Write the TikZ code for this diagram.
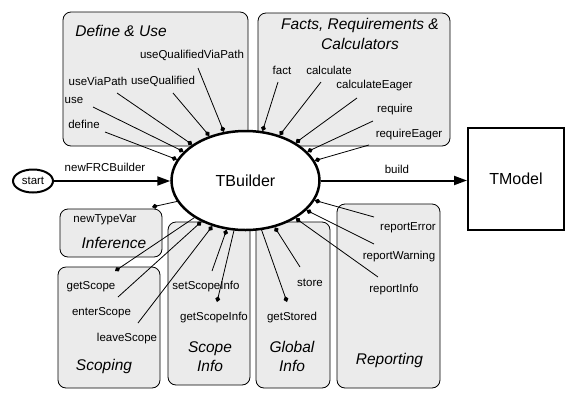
\documentclass[tikz,border=0pt]{standalone}
\usepackage{fontspec}
\setmainfont{Liberation Sans}
\usetikzlibrary{shapes.geometric,arrows.meta}
\definecolor{boxgray}{RGB}{235,235,235}
\tikzset{
  lbl/.style={font=\fontsize{11.5}{13}\selectfont, inner sep=0pt},
  ttl/.style={font=\fontsize{15.5}{19.5}\selectfont\itshape, inner sep=0pt, align=center},
  grpbox/.style={draw, line width=0.8pt, fill=boxgray, rounded corners=8pt, inner sep=0pt},
  conn/.style={line width=0.8pt, -{Diamond[length=6pt,width=5pt]}},
  mainarrow/.style={line width=2pt, -{Triangle[length=13pt,width=9pt]}},
}
\begin{document}
\begin{tikzpicture}[x=1pt,y=-1pt]
\useasboundingbox (0,0) rectangle (576,400);
% group boxes
\node[grpbox, minimum width=185pt, minimum height=134pt] (duBox) at (155.5,79) {};
\node[grpbox, minimum width=192pt, minimum height=133pt] (frBox) at (354,79.5) {};
\node[grpbox, minimum width=102pt, minimum height=48pt] (infBox) at (111,233) {};
\node[grpbox, minimum width=102pt, minimum height=121pt] (scBox) at (109,327.5) {};
\node[grpbox, minimum width=82pt, minimum height=163pt] (siBox) at (209,303.5) {};
\node[grpbox, minimum width=74pt, minimum height=166pt] (giBox) at (293,305) {};
\node[grpbox, minimum width=103pt, minimum height=184pt] (repBox) at (388.5,296) {};
% titles
\node[ttl] (tDU) at (121,31) {Define \& Use};
\node[ttl] (tFR) at (360,34) {Facts, Requirements \&\\Calculators};
\node[ttl] (tInf) at (114,243) {Inference};
\node[ttl] (tSc) at (104,366) {Scoping};
\node[ttl] (tSI) at (210,356.5) {Scope\\Info};
\node[ttl] (tGI) at (292,356.5) {Global\\Info};
\node[ttl] (tRep) at (389.5,360) {Reporting};
% main nodes
\node[ellipse, draw, line width=2.5pt, fill=white, minimum width=148pt, minimum height=99pt,
      font=\fontsize{16}{19}\selectfont] (tb) at (245.5,180.5) {TBuilder};
\node[ellipse, draw, line width=2pt, fill=white, minimum width=40pt, minimum height=23pt, inner sep=0pt,
      font=\fontsize{11.5}{13}\selectfont] (start) at (33,181) {start};
\node[draw, line width=2pt, fill=white, minimum width=96pt, minimum height=102pt,
      font=\fontsize{16}{19}\selectfont] (tm) at (516,179) {TModel};
% main arrows
\draw[mainarrow] (start.east) -- (start.east -| tb.west);
\draw[mainarrow] (tb.east) -- (tb.east -| tm.west);
\node[lbl] (lNew) at (105,167) {newFRCBuilder};
\node[lbl] (lBuild) at (397,169) {build};
% labels
\node[lbl] (lUQVP) at (192,55) {useQualifiedViaPath};
\node[lbl] (lUVP) at (98,81) {useViaPath};
\node[lbl] (lUQ) at (163,81) {useQualified};
\node[lbl] (lUse) at (74,100) {use};
\node[lbl] (lDef) at (84,124) {define};
\node[lbl] (lFact) at (282,70) {fact};
\node[lbl] (lCalc) at (329,70) {calculate};
\node[lbl] (lCalcE) at (374.5,86) {calculateEager};
\node[lbl] (lReq) at (395,110) {require};
\node[lbl] (lReqE) at (409,135) {requireEager};
\node[lbl] (lNTV) at (105,220) {newTypeVar};
\node[lbl] (lGS) at (91,287) {getScope};
\node[lbl] (lES) at (101.5,313) {enterScope};
\node[lbl] (lLS) at (127,339) {leaveScope};
\node[lbl] (lSSI) at (206,287) {setScopeInfo};
\node[lbl] (lGSI) at (214,318) {getScopeInfo};
\node[lbl] (lStore) at (310,283) {store};
\node[lbl] (lGSt) at (292,318) {getStored};
\node[lbl] (lRE) at (408,228) {reportError};
\node[lbl] (lRW) at (399,257) {reportWarning};
\node[lbl] (lRI) at (394,290) {reportInfo};
% free ends
\coordinate (cUQVP) at (198,68);
\coordinate (cUQ) at (173,93);
\coordinate (cUVP) at (117,93);
\coordinate (cUse) at (93,107);
\coordinate (cDef) at (105,132);
\coordinate (cFact) at (278,82);
\coordinate (cCalc) at (321,82);
\coordinate (cCalcE) at (357,98);
\coordinate (cReq) at (373,121);
\coordinate (cReqE) at (369,145);
\coordinate (cNTV) at (152,207);
\coordinate (cGS) at (115,271);
\coordinate (cES) at (118,297);
\coordinate (cLS) at (138,323);
\coordinate (cSSI) at (212,271);
\coordinate (cGSI) at (217,302);
\coordinate (cGSt) at (287,302);
\coordinate (cStore) at (300,267);
\coordinate (cRI) at (378,277);
\coordinate (cRW) at (374,244);
\coordinate (cRE) at (374,217);
% connectors
\draw[conn] (cUQVP) -- (tb.114);
\draw[conn] (cUQ) -- (tb.129);
\draw[conn] (cUVP) -- (tb.146);
\draw[conn] (cUse) -- (tb.155);
\draw[conn] (cDef) -- (tb.163);
\draw[conn] (cFact) -- (tb.71);
\draw[conn] (cCalc) -- (tb.53);
\draw[conn] (cCalcE) -- (tb.37);
\draw[conn] (cReq) -- (tb.25);
\draw[conn] (cReqE) -- (tb.16);
\draw[conn] (tb.197) -- (cNTV);
\draw[conn] (tb.216) -- (cGS);
\draw[conn] (cES) -- (tb.223);
\draw[conn] (cLS) -- (tb.234);
\draw[conn] (cSSI) -- (tb.249);
\draw[conn] (tb.257) -- (cGSI);
\draw[conn] (tb.288) -- (cGSt);
\draw[conn] (cStore) -- (tb.302);
\draw[conn] (cRI) -- (tb.323);
\draw[conn] (cRW) -- (tb.334);
\draw[conn] (cRE) -- (tb.344);
\end{tikzpicture}
\end{document}
